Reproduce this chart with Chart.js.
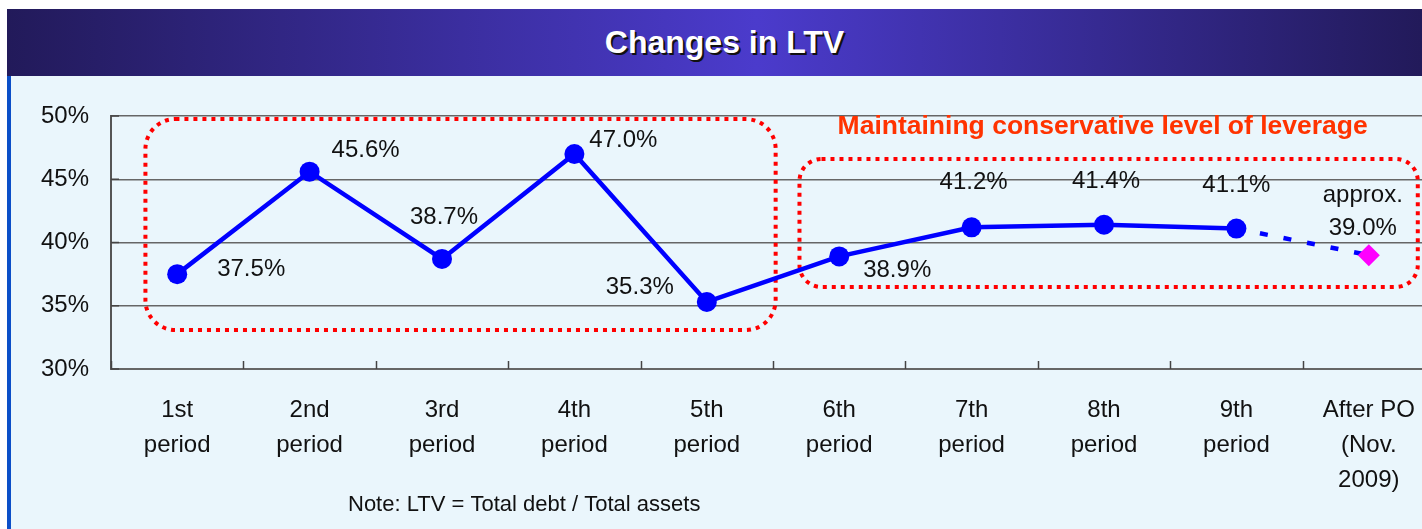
<!DOCTYPE html>
<html lang="en">
<head>
  <meta charset="UTF-8" />
  <title>Changes in LTV</title>
  <script src="https://cdn.jsdelivr.net/npm/chart.js"></script>
  <style>
    html, body {
      margin: 0;
      padding: 0;
      width: 1422px;
      height: 529px;
      overflow: hidden;
      background: #ffffff;
      font-family: 'Liberation Sans', Arial, sans-serif;
    }

    #panel {
      position: absolute;
      left: 7px;
      top: 9px;
      width: 1415px;
      height: 520px;
      background: #eaf6fc;
    }

    #titleBar {
      position: absolute;
      left: 7px;
      top: 9px;
      width: 1415px;
      height: 67px;
      background: linear-gradient(90deg, #221a5a 0%, #4b3bcc 53%, #221a5a 100%);
      color: #fff;
      font-weight: bold;
      font-size: 32px;
      line-height: 67px;
      text-align: center;
      text-indent: 20px;
      text-shadow: 2px 2px 0 #111;
    }

    #leftEdge {
      position: absolute;
      left: 7px;
      top: 76px;
      width: 4px;
      height: 453px;
      background: #0b4fc8;
      z-index: 2;
    }

    #ltvChart {
      position: absolute;
      left: 0;
      top: 76px;
    }
  </style>
</head>
<body>
  <div id="panel"></div>
  <div id="titleBar">Changes in LTV</div>
  <canvas id="ltvChart" width="1446" height="453"></canvas>
  <div id="leftEdge"></div>

  <script>
    const categories = [
      ['1st', 'period'], ['2nd', 'period'], ['3rd', 'period'], ['4th', 'period'],
      ['5th', 'period'], ['6th', 'period'], ['7th', 'period'], ['8th', 'period'],
      ['9th', 'period'], ['After PO', '(Nov.', '2009)']
    ];
    const ltvValues = [37.5, 45.6, 38.7, 47.0, 35.3, 38.9, 41.2, 41.4, 41.1, 39.0];
    const valueLabels = [
      ['37.5%'], ['45.6%'], ['38.7%'], ['47.0%'], ['35.3%'],
      ['38.9%'], ['41.2%'], ['41.4%'], ['41.1%'], ['approx.', '39.0%']
    ];
    const yTicks = [30, 35, 40, 45, 50];
    const noteText = 'Note: LTV = Total debt / Total assets';
    const calloutText = 'Maintaining conservative level of leverage';

    // label offsets from their point, in px
    const labelOffsets = [
      [74, -5], [56, -21], [2, -42], [49, -14], [-67, -15],
      [58, 14], [2, -45], [2, -43], [0, -43], [-6, -60]
    ];

    // dotted boxes in data units: [xFrom, xTo, yFrom, yTo, corner radius]
    const boxes = [
      [-0.24, 4.52, 33.08, 49.76, 30],
      [4.70, 9.37, 36.48, 46.6, 22]
    ];

    const lastIdx = ltvValues.length - 1;
    const FONT = "'Liberation Sans', Arial, sans-serif";

    function roundRect(ctx, x, y, w, h, r) {
      ctx.beginPath();
      ctx.moveTo(x + r, y);
      ctx.lineTo(x + w - r, y);
      ctx.arcTo(x + w, y, x + w, y + r, r);
      ctx.lineTo(x + w, y + h - r);
      ctx.arcTo(x + w, y + h, x + w - r, y + h, r);
      ctx.lineTo(x + r, y + h);
      ctx.arcTo(x, y + h, x, y + h - r, r);
      ctx.lineTo(x, y + r);
      ctx.arcTo(x, y, x + r, y, r);
      ctx.closePath();
    }

    const decorations = {
      id: 'decorations',
      beforeDatasetsDraw(chart) {
        const { ctx, scales: { x, y } } = chart;
        ctx.save();
        // inner tick marks
        ctx.strokeStyle = '#444';
        ctx.lineWidth = 1.5;
        for (let i = 0; i <= categories.length; i++) {
          const px = Math.round(x.getPixelForValue(i - 0.5)) + 0.5;
          ctx.beginPath();
          ctx.moveTo(px, y.bottom);
          ctx.lineTo(px, y.bottom - 8);
          ctx.stroke();
        }
        yTicks.forEach(v => {
          const py = y.getPixelForValue(v);
          ctx.beginPath();
          ctx.moveTo(x.left, py);
          ctx.lineTo(x.left + 8, py);
          ctx.stroke();
        });

        // dotted rounded boxes
        ctx.strokeStyle = '#ff0000';
        ctx.lineWidth = 4;
        ctx.setLineDash([4, 5]);
        boxes.forEach(([x0, x1, y0, y1, r]) => {
          const left = x.getPixelForValue(x0);
          const right = x.getPixelForValue(x1);
          const top = y.getPixelForValue(y1);
          const bottom = y.getPixelForValue(y0);
          roundRect(ctx, left, top, right - left, bottom - top, r);
          ctx.stroke();
        });
        ctx.setLineDash([]);

        // callout text
        ctx.fillStyle = '#ff3300';
        ctx.font = 'bold 26.5px ' + FONT;
        ctx.textAlign = 'center';
        ctx.textBaseline = 'middle';
        ctx.fillText(calloutText, x.getPixelForValue(6.99), y.getPixelForValue(49.13));
        ctx.restore();
      },
      afterDatasetsDraw(chart) {
        const { ctx } = chart;
        const meta = chart.getDatasetMeta(0);
        ctx.save();
        ctx.fillStyle = '#111';
        ctx.font = '24px ' + FONT;
        ctx.textAlign = 'center';
        ctx.textBaseline = 'middle';
        meta.data.forEach((pt, i) => {
          const [dx, dy] = labelOffsets[i];
          valueLabels[i].forEach((line, j) => {
            ctx.fillText(line, pt.x + dx, pt.y + dy + j * 33);
          });
        });

        // note under the axis
        ctx.font = '22px ' + FONT;
        ctx.textAlign = 'left';
        ctx.fillText(noteText, 348, chart.height - 24);
        ctx.restore();
      }
    };

    new Chart(document.getElementById('ltvChart'), {
      type: 'line',
      data: {
        labels: categories,
        datasets: [{
          label: 'LTV',
          data: ltvValues,
          borderColor: '#0000ff',
          borderWidth: 4.5,
          tension: 0,
          clip: false,
          pointStyle: ltvValues.map((v, i) => i === lastIdx ? 'rectRot' : 'circle'),
          pointRadius: ltvValues.map((v, i) => i === lastIdx ? 11 : 10),
          pointBackgroundColor: ltvValues.map((v, i) => i === lastIdx ? '#ff00ff' : '#0000ff'),
          pointBorderWidth: 0,
          segment: {
            borderDash: c => c.p1DataIndex === lastIdx ? [8, 16] : undefined
          }
        }]
      },
      options: {
        responsive: false,
        animation: false,
        layout: { padding: { top: 40, right: 1, left: 0, bottom: 0 } },
        plugins: {
          legend: { display: false },
          tooltip: { enabled: false }
        },
        scales: {
          x: {
            offset: true,
            grid: { display: false, drawTicks: false },
            border: { display: true, color: '#666', width: 2 },
            ticks: {
              autoSkip: false,
              maxRotation: 0,
              padding: 24,
              color: '#111',
              font: { family: FONT, size: 24, lineHeight: 1.45 }
            },
            afterFit: s => { s.height = 160; }
          },
          y: {
            min: 30,
            max: 50,
            afterBuildTicks: s => { s.ticks = yTicks.map(v => ({ value: v })); },
            grid: { color: '#666', lineWidth: 1.5, drawTicks: false },
            border: { display: true, color: '#555', width: 2 },
            ticks: {
              padding: 22,
              color: '#111',
              font: { family: FONT, size: 24 },
              callback: v => v + '%'
            },
            afterFit: s => { s.width = 111; }
          }
        }
      },
      plugins: [decorations]
    });
  </script>
</body>
</html>
